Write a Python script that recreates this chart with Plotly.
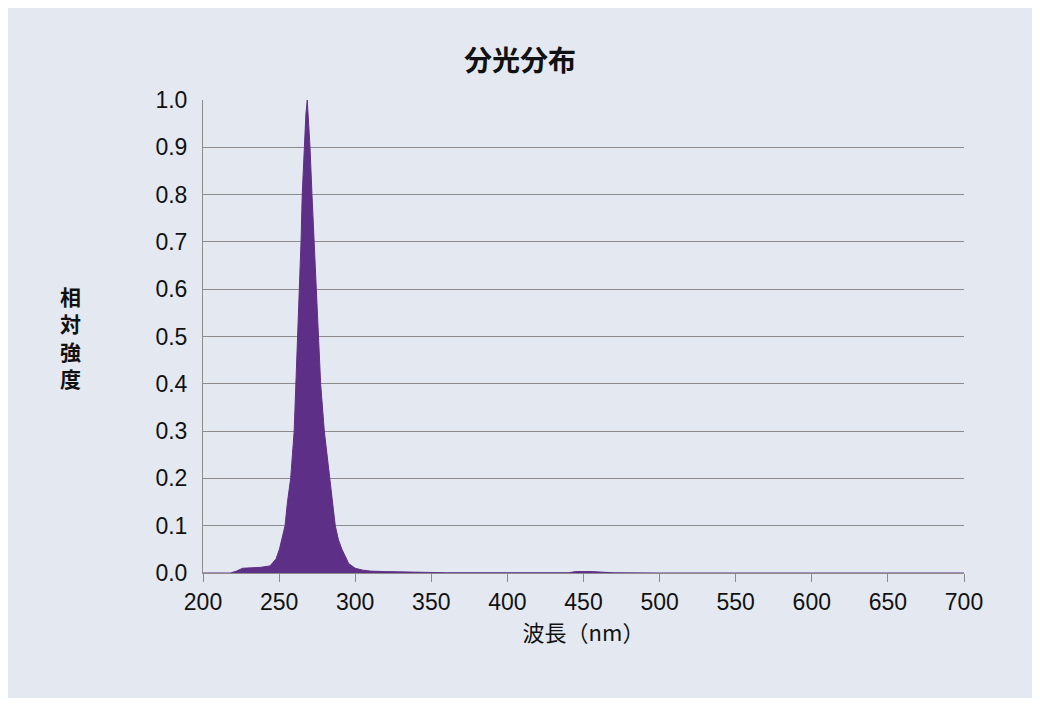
import plotly.graph_objects as go

# spectrum (nm, relative intensity)
wavelength = [200, 218, 222, 226, 232, 238, 244, 248, 250.2, 252, 253.9, 255.5, 257.6, 259.9, 261, 262.1,
              263.5, 264.4, 265.2, 266.5, 267.6, 268.5, 269.4, 270.3, 271.6, 273, 274.2, 275.6, 277.3,
              279.7, 283.1, 286.9, 289, 291.3, 295.7, 300, 305, 310, 320, 330, 340, 360, 440, 445,
              455, 465, 470, 500, 600, 700]
intensity = [0, 0, 0.004, 0.01, 0.011, 0.012, 0.015, 0.03, 0.05, 0.075, 0.1, 0.15, 0.2, 0.3, 0.4, 0.5,
             0.6, 0.7, 0.8, 0.9, 0.97, 1.0, 0.96, 0.9, 0.8, 0.7, 0.6, 0.5, 0.4,
             0.3, 0.2, 0.1, 0.07, 0.05, 0.02, 0.01, 0.006, 0.004, 0.003, 0.002, 0.001, 0.0005, 0.0005, 0.003,
             0.003, 0.002, 0.0005, 0, 0, 0]

x_ticks = list(range(200, 701, 50))
y_ticks = [i / 10 for i in range(11)]

fig = go.Figure()
fig.add_trace(go.Scatter(x=wavelength, y=intensity, mode="lines", fill="tozeroy",
                         line=dict(color="#5e2f87", width=1), fillcolor="#5e2f87",
                         hoverinfo="skip"))

tick_font = dict(family="Liberation Sans, Arial", size=23, color="#111")
fig.update_layout(
    width=1024, height=690,
    margin=dict(l=195, r=68, t=92, b=125),
    paper_bgcolor="#e4e9f1", plot_bgcolor="rgba(0,0,0,0)",
    showlegend=False,
    title=dict(text="<b>分光分布</b>", x=0.5, xanchor="center", y=0.923, yanchor="middle",
               font=dict(family="Noto Sans CJK JP", size=28, color="#111")),
    xaxis=dict(range=[200, 700], tickvals=x_ticks, tickfont=tick_font,
               showgrid=False, zeroline=False, showline=True, linecolor="#8c8c8c", linewidth=1,
               ticks="outside", ticklen=8, tickcolor="#8c8c8c",
               title=dict(text="波長（nm）", font=dict(family="Noto Sans CJK JP", size=22, color="#111"),
                          standoff=10)),
    yaxis=dict(range=[0, 1.0], tickvals=y_ticks, tickformat=".1f", tickfont=tick_font,
               showgrid=True, gridcolor="#8c8c8c", gridwidth=1, zeroline=False,
               showline=True, linecolor="#8c8c8c", ticks="", ticklabelstandoff=10),
)
fig.add_annotation(text="<b>相<br>対<br>強<br>度</b>", xref="paper", yref="paper", x=-0.19, y=0.5,
                   showarrow=False, font=dict(family="Noto Sans CJK JP", size=21, color="#111"),
                   align="center")

fig.write_html("out.html")
